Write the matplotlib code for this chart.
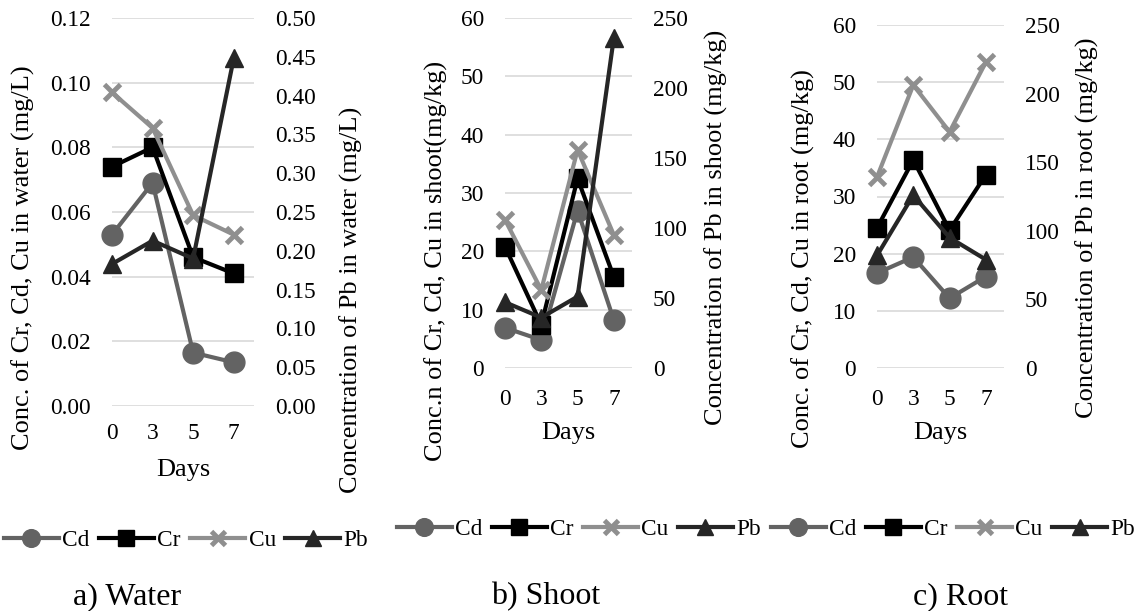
import matplotlib
matplotlib.use("Agg")
import matplotlib.pyplot as plt
from matplotlib.ticker import FormatStrFormatter

plt.rcParams['font.family'] = 'serif'
plt.rcParams['font.serif'] = ['Liberation Serif', 'Times New Roman', 'DejaVu Serif']

days = ["0", "3", "5", "7"]

# water (mg/L)
water_cd = [0.053, 0.069, 0.0165, 0.0135]
water_cr = [0.074, 0.080, 0.046, 0.041]
water_cu = [0.097, 0.086, 0.059, 0.053]
water_pb = [0.183, 0.213, 0.19, 0.448]

# shoot (mg/kg)
shoot_cd = [6.9, 4.8, 27.0, 8.2]
shoot_cr = [20.8, 7.4, 32.5, 15.6]
shoot_cu = [25.4, 13.4, 37.4, 22.8]
shoot_pb = [47, 36, 51, 236]

# root (mg/kg)
root_cd = [16.6, 19.4, 12.2, 16.0]
root_cr = [24.5, 36.4, 24.1, 33.8]
root_cu = [33.4, 49.5, 41.3, 53.5]
root_pb = [82, 126, 95, 79]

C_CD = "#636363"
C_CR = "#000000"
C_CU = "#8f8f8f"
C_PB = "#262626"
FS = 16.8     # tick labels / legend
FS_AX = 19    # axis titles
LW = 3.0

W, H = 1135, 611
fig = plt.figure(figsize=(W / 100, H / 100), dpi=100)


def box(x0, x1, ytop, ybot):
    return [x0 / W, 1 - ybot / H, (x1 - x0) / W, (ybot - ytop) / H]


def panel(rect, cd, cr, cu, pb, lmax, lstep, rmax, rstep, fmt_l, fmt_r, xpad):
    ax = fig.add_axes(rect)
    x = list(range(len(days)))
    h = []
    h += ax.plot(x, cd, color=C_CD, lw=LW, marker="o", ms=15, label="Cd", clip_on=False)
    h += ax.plot(x, cr, color=C_CR, lw=LW, marker="s", ms=13, label="Cr", clip_on=False)
    h += ax.plot(x, cu, color=C_CU, lw=LW, marker="x", ms=12, mew=3.5, label="Cu", clip_on=False)
    ax.set_xlim(0, 3.5)
    ax.set_ylim(0, lmax)
    ax.set_yticks([i * lstep for i in range(int(round(lmax / lstep)) + 1)])
    ax.yaxis.set_major_formatter(FormatStrFormatter(fmt_l))
    ax.set_xticks(x)
    ax.set_xticklabels(days)
    ax.grid(axis="y", color="#d9d9d9", lw=1.2)
    ax.set_axisbelow(True)
    for s in ax.spines.values():
        s.set_visible(False)
    ax.tick_params(axis="y", length=0, pad=15, labelsize=FS)
    ax.tick_params(axis="x", length=0, pad=xpad, labelsize=FS)

    ax2 = ax.twinx()
    h += ax2.plot(x, pb, color=C_PB, lw=LW, marker="^", ms=13, label="Pb", clip_on=False)
    ax2.set_ylim(0, rmax)
    ax2.set_yticks([i * rstep for i in range(int(round(rmax / rstep)) + 1)])
    ax2.yaxis.set_major_formatter(FormatStrFormatter(fmt_r))
    for s in ax2.spines.values():
        s.set_visible(False)
    ax2.tick_params(axis="y", length=0, pad=15, labelsize=FS)
    ax2.set_xlim(0, 3.5)
    return h


ha = panel(box(112, 254, 18, 406), water_cd, water_cr, water_cu, water_pb,
           0.12, 0.02, 0.50, 0.05, "%.2f", "%.2f", 12)
hb = panel(box(505, 632, 18, 368), shoot_cd, shoot_cr, shoot_cu, shoot_pb,
           60, 10, 250, 50, "%d", "%d", 15)
hc = panel(box(877, 1004, 25, 368), root_cd, root_cr, root_cu, root_pb,
           60, 10, 250, 50, "%d", "%d", 15)


def ftext(x, y, s, **kw):
    fig.text(x / W, 1 - y / H, s, ha="center", va="center", **kw)


# axis titles
ftext(23, 258, "Conc. of Cr, Cd, Cu in water (mg/L)", rotation=90, fontsize=FS_AX)
ftext(351, 300, "Concentration of Pb in water (mg/L)", rotation=90, fontsize=FS_AX)
ftext(183, 470, "Days", fontsize=FS_AX)
ftext(436, 261, "Conc.n of Cr, Cd, Cu in shoot(mg/kg)", rotation=90, fontsize=FS_AX)
ftext(716, 227, "Concentration of Pb in shoot (mg/kg)", rotation=90, fontsize=FS_AX)
ftext(568, 433, "Days", fontsize=FS_AX)
ftext(803, 259, "Conc. of Cr, Cd, Cu in root (mg/kg)", rotation=90, fontsize=FS_AX)
ftext(1087, 228, "Concentration of Pb in root (mg/kg)", rotation=90, fontsize=FS_AX)
ftext(940, 433, "Days", fontsize=FS_AX)

# panel captions
ftext(127, 597, "a) Water", fontsize=23)
ftext(546, 597, "b) Shoot", fontsize=23)
ftext(961, 597, "c) Root", fontsize=23)

leg_kw = dict(loc="center", ncol=4, frameon=False, fontsize=FS, handlelength=2.35,
              handletextpad=0.15, columnspacing=0.4, borderpad=0, borderaxespad=0,
              markerscale=0.85)
fig.legend(handles=ha, bbox_to_anchor=(186 / W, 1 - 540 / H), **leg_kw)
fig.legend(handles=hb, bbox_to_anchor=(579 / W, 1 - 529 / H), **leg_kw)
fig.legend(handles=hc, bbox_to_anchor=(953 / W, 1 - 529 / H), **leg_kw)

fig.savefig("out.png", dpi=100)
